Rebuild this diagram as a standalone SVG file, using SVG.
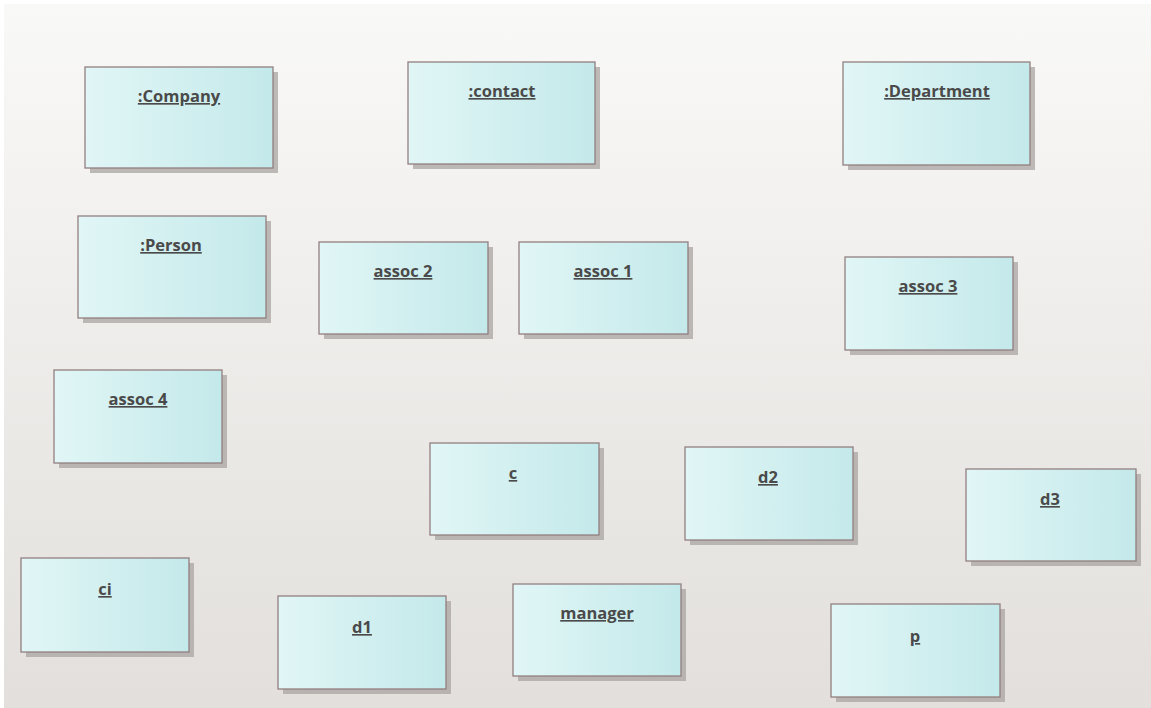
<svg xmlns="http://www.w3.org/2000/svg" width="1151" height="708" viewBox="0 0 1151 708">
<defs>
<linearGradient id="bg" x1="0" y1="0" x2="0" y2="1">
<stop offset="0" stop-color="#f9f9f7"/>
<stop offset="1" stop-color="#e2dfdc"/>
</linearGradient>
<linearGradient id="nf" x1="0" y1="0" x2="1" y2="0">
<stop offset="0" stop-color="#e1f6f6"/>
<stop offset="1" stop-color="#c4e9ea"/>
</linearGradient>
<style>
.sh{fill:#a9a4a2;opacity:0.75}
.bx{fill:url(#nf);stroke:#927f80;stroke-width:1.3}
.lb{font-family:"Open Sans","Noto Sans",sans-serif;font-weight:bold;font-size:16.5px;fill:#4a4a4a;text-anchor:middle;text-decoration:underline}
</style>
</defs>
<rect x="0" y="0" width="1151" height="708" fill="url(#bg)"/>
<rect x="0" y="0" width="1151" height="4" fill="#ffffff"/>
<rect x="0" y="0" width="4" height="708" fill="#ffffff"/>
<g id="connectors"></g>
<g id="company"><rect class="sh" x="90" y="72" width="188" height="101"/><rect class="bx" x="85" y="67" width="188" height="101"/><text class="lb" x="179" y="102">:Company</text></g>
<g id="contact"><rect class="sh" x="413" y="67" width="187" height="102"/><rect class="bx" x="408" y="62" width="187" height="102"/><text class="lb" x="502" y="97">:contact</text></g>
<g id="department"><rect class="sh" x="848" y="67" width="187" height="103"/><rect class="bx" x="843" y="62" width="187" height="103"/><text class="lb" x="937" y="97">:Department</text></g>
<g id="person"><rect class="sh" x="83" y="221" width="188" height="102"/><rect class="bx" x="78" y="216" width="188" height="102"/><text class="lb" x="171" y="251">:Person</text></g>
<g id="assoc2"><rect class="sh" x="324" y="247" width="169" height="92"/><rect class="bx" x="319" y="242" width="169" height="92"/><text class="lb" x="403" y="277">assoc 2</text></g>
<g id="assoc1"><rect class="sh" x="524" y="247" width="169" height="92"/><rect class="bx" x="519" y="242" width="169" height="92"/><text class="lb" x="603" y="277">assoc 1</text></g>
<g id="assoc3"><rect class="sh" x="850" y="262" width="168" height="93"/><rect class="bx" x="845" y="257" width="168" height="93"/><text class="lb" x="928" y="292">assoc 3</text></g>
<g id="assoc4"><rect class="sh" x="59" y="375" width="168" height="93"/><rect class="bx" x="54" y="370" width="168" height="93"/><text class="lb" x="138" y="405">assoc 4</text></g>
<g id="c"><rect class="sh" x="435" y="448" width="169" height="92"/><rect class="bx" x="430" y="443" width="169" height="92"/><text class="lb" x="513" y="479">c</text></g>
<g id="d2"><rect class="sh" x="690" y="452" width="168" height="93"/><rect class="bx" x="685" y="447" width="168" height="93"/><text class="lb" x="768" y="483">d2</text></g>
<g id="d3"><rect class="sh" x="971" y="474" width="170" height="92"/><rect class="bx" x="966" y="469" width="170" height="92"/><text class="lb" x="1050" y="505">d3</text></g>
<g id="ci"><rect class="sh" x="26" y="563" width="168" height="94"/><rect class="bx" x="21" y="558" width="168" height="94"/><text class="lb" x="105" y="595">ci</text></g>
<g id="d1"><rect class="sh" x="283" y="601" width="168" height="93"/><rect class="bx" x="278" y="596" width="168" height="93"/><text class="lb" x="362" y="633">d1</text></g>
<g id="manager"><rect class="sh" x="518" y="589" width="168" height="92"/><rect class="bx" x="513" y="584" width="168" height="92"/><text class="lb" x="597" y="619">manager</text></g>
<g id="p"><rect class="sh" x="836" y="609" width="169" height="93"/><rect class="bx" x="831" y="604" width="169" height="93"/><text class="lb" x="915" y="642">p</text></g>
</svg>
